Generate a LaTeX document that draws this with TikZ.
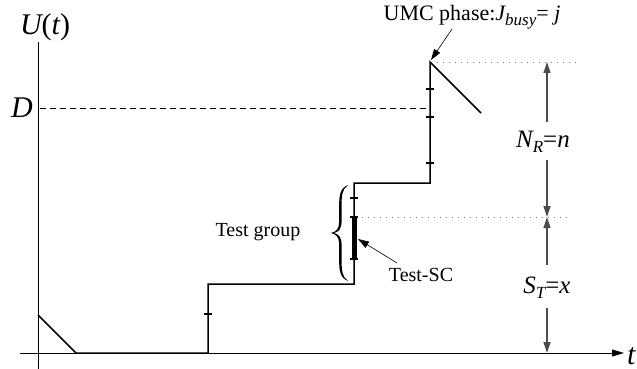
\documentclass[tikz,border=0pt]{standalone}
\usepackage{fontspec}
\setmainfont{Liberation Serif}
\usetikzlibrary{arrows.meta}
\newcommand{\lowsub}[3]{\raisebox{-#2}{\fontsize{#3}{#3}\selectfont\itshape #1}}
\tikzset{
  axisline/.style={line width=1pt},
  curveline/.style={line width=1.5pt},
  tickmark/.style={line width=1.3pt},
  guide/.style={line width=0.8pt, gray, dash pattern=on 1pt off 5pt},
  dimarrow/.style={line width=1.3pt, black!70, -{Triangle[length=11pt,width=7pt]}},
  pointer/.style={line width=0.6pt, -{Triangle[length=11pt,width=7pt]}},
  lbl/.style={inner sep=0pt, font=\fontsize{20}{20}\selectfont},
  umclbl/.style={inner sep=0pt, font=\fontsize{22}{22}\selectfont},
  biglbl/.style={inner sep=0pt, font=\fontsize{30}{30}\selectfont\itshape},
  mathlbl/.style={inner sep=0pt, font=\fontsize{25}{25}\selectfont},
}
\begin{document}
\begin{tikzpicture}[x=1pt,y=-1pt]
\useasboundingbox (0,0) rectangle (637,369);
% axes
\coordinate (ytop) at (38,42);
\coordinate (ybot) at (38,369);
\coordinate (xl) at (20,353);
\coordinate (xr) at (624,353);
\draw[axisline] (ytop) -- (ybot);
\draw[axisline, -{Triangle[length=12pt,width=7pt]}] (xl) -- (xr);
\node[biglbl, anchor=west] (tlab) at (627,356) {t};
\node[biglbl] (ulab) at (45,27) {U\upshape(\itshape t\upshape)};
\node[biglbl] (dlab) at (22,108) {D};
% D dashed
\coordinate (d0) at (40,108);
\coordinate (d1) at (430,108);
\draw[line width=0.8pt, dash pattern=on 6pt off 4pt] (d0) -- (d1);
% curve
\coordinate (p0) at (38,315);
\coordinate (p1) at (76,353);
\coordinate (p2) at (208,353);
\coordinate (p3) at (208,284);
\coordinate (p4) at (354,284);
\coordinate (p5) at (354,183);
\coordinate (p6) at (430,183);
\coordinate (p7) at (430,62);
\coordinate (p8) at (481,113);
\draw[curveline, line join=miter] (p0) -- (p1) -- (p2) -- (p3) -- (p4) -- (p5) -- (p6) -- (p7) -- (p8);
% ticks
\foreach \x/\y in {208/314, 354/198, 430/163, 430/117, 430/89}
  \draw[tickmark] (\x-4,\y) -- (\x+4,\y);
% thick bar (Test-SC)
\fill (351.5,217) rectangle (356.5,259);
\draw[tickmark] (350,217) -- (358,217);
\draw[tickmark] (350,259) -- (358,259);
% guides
\coordinate (g0) at (437,62);
\coordinate (g1) at (580,62);
\coordinate (g2) at (362,217);
\coordinate (g3) at (570,217);
\draw[guide] (g0) -- (g1);
\draw[guide] (g2) -- (g3);
% dimension arrows
\node[mathlbl] (nr) at (543,142) {\itshape N\lowsub{R}{0.45ex}{17}\upshape=\itshape n};
\node[mathlbl] (st) at (547,288) {\itshape S\lowsub{T}{0.45ex}{17}\upshape=\itshape x};
\coordinate (a1) at (547,122);
\coordinate (a1t) at (547,62);
\coordinate (a2) at (547,160);
\coordinate (a2t) at (547,217);
\coordinate (a3) at (547,265);
\coordinate (a3t) at (547,217);
\coordinate (a4) at (547,308);
\coordinate (a4t) at (547,353);
\draw[dimarrow] (a1) -- (a1t);
\draw[dimarrow] (a2) -- (a2t);
\draw[dimarrow] (a3) -- (a3t);
\draw[dimarrow] (a4) -- (a4t);
% brace and test group
\coordinate (bt) at (348,185);
\coordinate (bm) at (331,233);
\coordinate (bb) at (348,281);
\fill (bt) .. controls (340,188) and (339,196) .. (339.2,206) -- (339.2,222)
      .. controls (339,229) and (336,232) .. (bm)
      .. controls (336,234) and (339,237) .. (339.2,244) -- (339.2,260)
      .. controls (339,270) and (340,278) .. (bb)
      .. controls (342,277) and (341.6,270) .. (341.6,260) -- (341.6,244)
      .. controls (341.5,238) and (339,234) .. (334,233)
      .. controls (339,232) and (341.5,228) .. (341.6,222) -- (341.6,206)
      .. controls (341.6,196) and (342,189) .. (bt) -- cycle;
\node[lbl] (tg) at (258,232) {Test group};
% Test-SC
\node[lbl] (tsc) at (421,275) {Test-SC};
\coordinate (tsc0) at (397,263);
\coordinate (tsc1) at (358,239);
\draw[pointer] (tsc0) -- (tsc1);
% UMC
\node[umclbl] (umc) at (472,17) {UMC phase:\itshape J\lowsub{busy}{0.55ex}{17}\upshape= \itshape j};
\coordinate (u0) at (452,29);
\coordinate (u1) at (431,60);
\draw[pointer] (u0) -- (u1);
\end{tikzpicture}
\end{document}
